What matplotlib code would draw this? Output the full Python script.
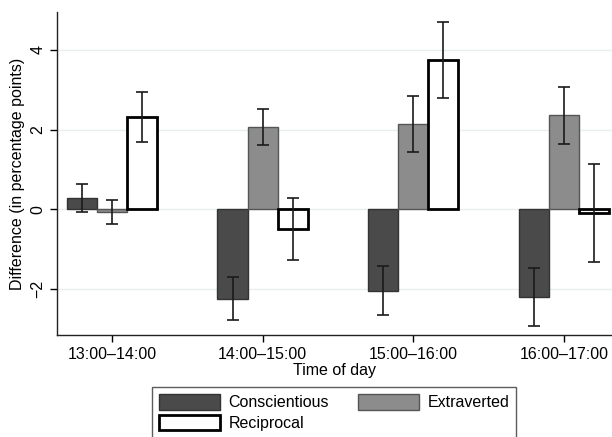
import matplotlib
matplotlib.use("Agg")
import matplotlib.pyplot as plt
import numpy as np

plt.rcParams['font.family'] = ['Liberation Sans', 'DejaVu Sans']
plt.rcParams['axes.unicode_minus'] = True

categories = ["13:00\u201314:00", "14:00\u201315:00", "15:00\u201316:00", "16:00\u201317:00"]
series_names = ["Conscientious", "Extraverted", "Reciprocal"]
conscientious = [0.28, -2.25, -2.04, -2.20]
conscientious_lo = [-0.06, -2.78, -2.64, -2.92]
conscientious_hi = [0.64, -1.69, -1.43, -1.48]
extraverted = [-0.06, 2.06, 2.14, 2.36]
extraverted_lo = [-0.36, 1.62, 1.43, 1.64]
extraverted_hi = [0.24, 2.51, 2.84, 3.07]
reciprocal = [2.32, -0.49, 3.75, -0.08]
reciprocal_lo = [1.70, -1.26, 2.80, -1.31]
reciprocal_hi = [2.94, 0.28, 4.70, 1.13]
yticks = [-2, 0, 2, 4]

fig = plt.figure(figsize=(6.12, 4.37), dpi=100)
ax = fig.add_axes([57/612, 1-335/437, 1-57/612, (335-12)/437])

x = np.arange(1, len(categories)+1)
w = 0.2
styles = [
    dict(facecolor="#4a4a4a", edgecolor="#333333", linewidth=1.0),
    dict(facecolor="#8c8c8c", edgecolor="#555555", linewidth=1.0),
    dict(facecolor="white", edgecolor="black", linewidth=2.0),
]
data = [(conscientious, conscientious_lo, conscientious_hi),
        (extraverted, extraverted_lo, extraverted_hi),
        (reciprocal, reciprocal_lo, reciprocal_hi)]
handles = []
for i, ((vals, lo, hi), st, name) in enumerate(zip(data, styles, series_names)):
    pos = x + (i-1)*w
    b = ax.bar(pos, vals, width=w, zorder=2, label=name, **st)
    handles.append(b)
    vals = np.array(vals); lo = np.array(lo); hi = np.array(hi)
    ax.errorbar(pos, vals, yerr=[vals-lo, hi-vals], fmt='none', ecolor="#1a1a1a",
                elinewidth=1.2, capsize=4, capthick=1.2, zorder=3)

ax.set_xlim(0.635, 4.319)
ax.set_ylim(-3.15, 4.95)
ax.set_yticks(yticks)
ax.set_yticklabels([str(t).replace('-', '\u2212') for t in yticks], rotation=90, va='center', fontsize=11.5)
ax.set_xticks(x)
ax.set_xticklabels(categories, fontsize=11.5)
ax.tick_params(axis='both', direction='out', length=5, width=1, colors='black')
ax.yaxis.grid(True, color="#e6eeee", linewidth=1.0, zorder=0)
ax.set_axisbelow(True)
for s in ['top', 'right']:
    ax.spines[s].set_visible(False)
for s in ['left', 'bottom']:
    ax.spines[s].set_linewidth(1.0)
    ax.spines[s].set_color("#222222")
ax.set_ylabel("Difference (in percentage points)", fontsize=11.5, labelpad=4)
ax.set_xlabel("Time of day", fontsize=11.5, labelpad=1)

order = [0, 2, 1]
leg = fig.legend(handles=[handles[i] for i in order], labels=[series_names[i] for i in order], ncol=2,
                 loc='upper left', bbox_to_anchor=(152/612, 1-387/437),
                 fontsize=11.5, frameon=True, fancybox=False, edgecolor="#333333",
                 handlelength=3.8, handleheight=1.1, columnspacing=1.8,
                 handletextpad=0.55, borderpad=0.45, labelspacing=0.3,
                 borderaxespad=0)
leg.get_frame().set_linewidth(1.0)

fig.savefig("out.png", dpi=100)
